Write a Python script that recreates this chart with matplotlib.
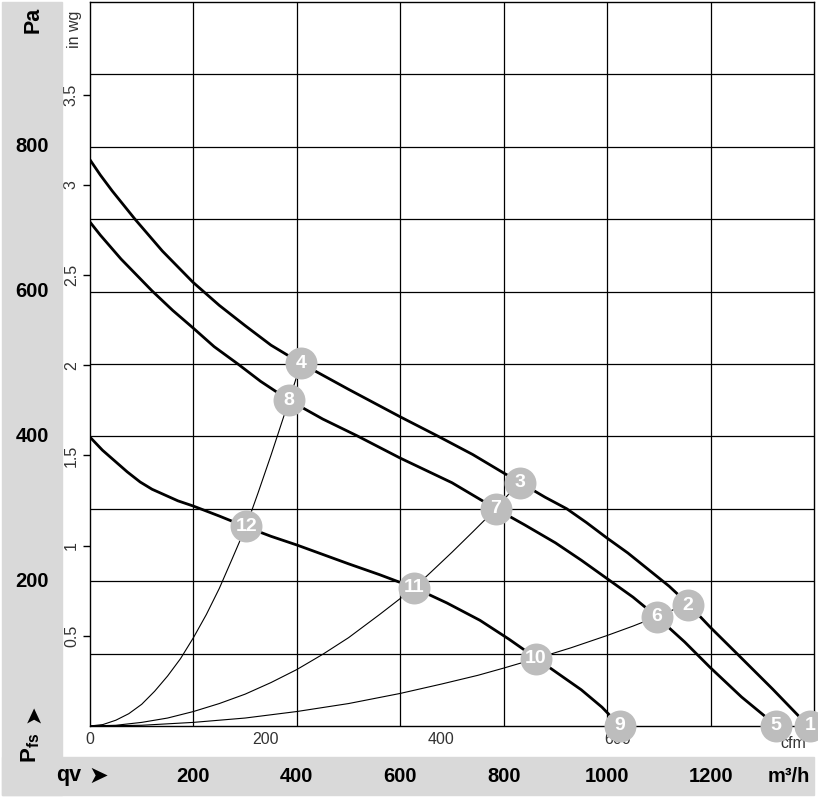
import matplotlib
matplotlib.use("Agg")
import matplotlib.pyplot as plt
import matplotlib.transforms as mtransforms
from matplotlib.patches import Rectangle

plt.rcParams['font.family'] = ['Liberation Sans', 'DejaVu Sans']
plt.rcParams['mathtext.default'] = 'regular'

# fan curves (qv m3/h, pfs Pa)
curve_a_q = [0, 20, 43, 87, 140, 199, 250, 300, 350, 408, 500, 600, 671, 740, 801, 830, 880,
             922, 960, 999, 1040, 1080, 1120, 1156, 1200, 1251, 1320, 1389]
curve_a_p = [782, 761, 739, 700, 656, 613, 581, 553, 526, 501, 465, 427, 401, 375, 349, 337, 316,
             300, 281, 260, 239, 216, 193, 169, 136, 100, 51, 0]
curve_b_q = [0, 20, 60, 120, 160, 199, 240, 286, 330, 385, 450, 516, 600, 700, 785, 840, 900,
             950, 999, 1050, 1096, 1150, 1199, 1260, 1328]
curve_b_p = [696, 678, 645, 601, 574, 550, 524, 500, 476, 450, 424, 401, 370, 336, 300, 278, 253,
             229, 204, 178, 151, 116, 81, 40, 0]
curve_c_q = [0, 24, 48, 72, 97, 120, 145, 170, 199, 250, 302, 350, 400, 450, 500, 560, 627,
             690, 754, 810, 862, 910, 950, 990, 1025]
curve_c_p = [399, 381, 366, 351, 337, 327, 319, 311, 304, 290, 275, 262, 250, 237, 224, 209, 191,
             170, 146, 120, 94, 70, 50, 26, 0]

# system curves
sys1_q = [0, 25, 50, 75, 100, 125, 150, 175, 200, 225, 250, 275, 302, 325, 350, 385, 408]
sys1_p = [0, 2, 8, 17, 30, 48, 69, 93, 122, 154, 190, 231, 276, 322, 374, 450, 501]
sys2_q = [0, 50, 100, 150, 200, 250, 300, 350, 400, 450, 500, 560, 627, 660, 700, 740, 785, 830]
sys2_p = [0, 1, 5, 11, 20, 31, 44, 60, 78, 99, 122, 154, 191, 213, 240, 268, 300, 337]
sys3_q = [0, 100, 200, 300, 400, 500, 600, 680, 750, 800, 862, 930, 1000, 1050, 1096, 1156]
sys3_p = [0, 1, 5, 11, 20, 31, 45, 58, 70, 80, 93, 108, 125, 138, 151, 169]

# operating point markers
mark_lab = ['1', '2', '3', '4', '5', '6', '7', '8', '9', '10', '11', '12']
mark_q = [1393, 1156, 831, 408, 1327, 1096, 785, 385, 1025, 862, 627, 302]
mark_p = [0, 167, 336, 501, 0, 151, 300, 450, 0, 93, 191, 276]

pa_ticks = [200, 400, 600, 800]
qv_ticks = [200, 400, 600, 800, 1000, 1200]
cfm_ticks = [0, 200, 400, 600]
inwg_ticks = [0.5, 1, 1.5, 2, 2.5, 3, 3.5]

W, H = 818, 800
fig = plt.figure(figsize=(W / 100, H / 100), dpi=100)

def fx(px):
    return px / W

def fy(py):
    return 1 - py / H

gray = '#d9d9d9'
fig.patches.append(Rectangle((fx(2), fy(795)), fx(62) - fx(2), fy(2) - fy(795),
                             transform=fig.transFigure, color=gray, zorder=0))
fig.patches.append(Rectangle((fx(2), fy(795)), fx(814) - fx(2), fy(757) - fy(795),
                             transform=fig.transFigure, color=gray, zorder=0))

ax = fig.add_axes([fx(90), fy(726), 724 / W, 724 / H])
ax.set_xlim(0, 1400)
ax.set_ylim(0, 1000)

for v in range(200, 1400, 200):
    ax.axvline(v, color='black', lw=0.9, zorder=1)
for v in range(100, 1000, 100):
    ax.axhline(v, color='black', lw=0.9, zorder=1)
for s in ax.spines.values():
    s.set_linewidth(1.0)

# fan curves
for q, p in [(curve_a_q, curve_a_p), (curve_b_q, curve_b_p), (curve_c_q, curve_c_p)]:
    ax.plot(q, p, color='black', lw=2.0, zorder=3, solid_capstyle='round',
            solid_joinstyle='round')
# system curves
for q, p in [(sys1_q, sys1_p), (sys2_q, sys2_p), (sys3_q, sys3_p)]:
    ax.plot(q, p, color='black', lw=0.8, zorder=2, solid_joinstyle='round')

ax.plot(mark_q, mark_p, 'o', ms=23, color='#bdbdbd', mec='none', zorder=5, clip_on=False)
for lab, q, p in zip(mark_lab, mark_q, mark_p):
    ax.text(q, p, lab, ha='center', va='center', color='white', fontsize=14,
            fontweight='bold', zorder=6, clip_on=False)

# inner secondary scales: cfm and in wg
ax.set_xticks([c * 1.699 for c in cfm_ticks])
ax.set_xticklabels([str(c) for c in cfm_ticks], fontsize=11.5, color='#333333')
ax.tick_params(axis='x', length=0, pad=4)
ax.set_yticks([w * 249.09 for w in inwg_ticks])
ax.set_yticklabels([('%g' % w) for w in inwg_ticks], fontsize=11.5, color='#333333',
                   rotation=90, va='center')
ax.tick_params(axis='y', length=5, width=1, pad=3)
ax.text(1360, -14, 'cfm', ha='center', va='top', fontsize=11.5, color='#333333')
ax.text(-30, 962, 'in wg', ha='center', va='center', rotation=90, fontsize=11.5,
        color='#333333', clip_on=False)

# outer scales: Pa and m3/h
ty = mtransforms.blended_transform_factory(fig.transFigure, ax.transData)
for v in pa_ticks:
    fig.text(fx(32), v, str(v), transform=ty, ha='center', va='center',
             fontsize=14.5, fontweight='bold')
fig.text(fx(33), fy(20), 'Pa', rotation=90, ha='center', va='center',
         fontsize=15.5, fontweight='bold')
fig.text(fx(31), fy(748), 'P$_{fs}$', rotation=90, ha='center', va='center',
         fontsize=16, fontweight='bold')
fig.text(fx(33), fy(714), '\u27a4', rotation=90, ha='center', va='center',
         fontsize=16, family=['DejaVu Sans'])

tx = mtransforms.blended_transform_factory(ax.transData, fig.transFigure)
for v in qv_ticks:
    fig.text(v, fy(776), str(v), transform=tx, ha='center', va='center',
             fontsize=14.5, fontweight='bold')
fig.text(fx(789), fy(776), 'm\u00b3/h', ha='center', va='center',
         fontsize=14.5, fontweight='bold')
fig.text(fx(69), fy(776), 'qv', ha='center', va='center',
         fontsize=15.5, fontweight='bold')
fig.text(fx(98), fy(776), '\u27a4', ha='center', va='center',
         fontsize=17, family=['DejaVu Sans'])

fig.savefig('out.png', dpi=100)
